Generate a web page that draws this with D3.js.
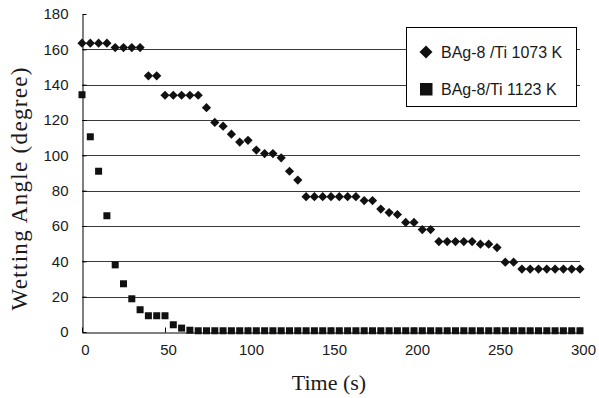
<!DOCTYPE html>
<html>
<head>
<meta charset="utf-8">
<script src="https://cdn.jsdelivr.net/npm/d3@7"></script>
<style>
  html, body { margin: 0; padding: 0; background: #fff; }
  svg { display: block; }
</style>
</head>
<body>
<div id="chart"></div>
<script>
// time (s)
const times = [0, 5, 10, 15, 20, 25, 30, 35, 40, 45, 50, 55, 60, 65, 70, 75, 80, 85, 90, 95,
  100, 105, 110, 115, 120, 125, 130, 135, 140, 145, 150, 155, 160, 165, 170, 175, 180, 185, 190, 195,
  200, 205, 210, 215, 220, 225, 230, 235, 240, 245, 250, 255, 260, 265, 270, 275, 280, 285, 290, 295, 300];

// BAg-8 /Ti 1073 K
const angle1073 = [163.5, 163.5, 163.5, 163.5, 161, 161, 161, 161, 145, 145,
  134, 134, 134, 134, 134, 127, 118.6, 116.5, 112, 107.5,
  108.5, 103, 101, 101, 98.6, 91, 86, 76.6, 76.6, 76.6,
  76.6, 76.6, 76.6, 76.6, 74.4, 74.4, 69.6, 67.6, 66.5, 62,
  62, 58, 58, 51.2, 51.2, 51.2, 51.2, 51.2, 49.7, 49.7,
  47.8, 39.5, 39.5, 35.6, 35.6, 35.6, 35.6, 35.6, 35.6, 35.6, 35.6];

// BAg-8/Ti 1123 K
const angle1123 = [134.3, 110.5, 91, 65.8, 38, 27.3, 18.8, 12.6, 9.2, 9.2,
  9.2, 4.1, 2.2, 1, 0.7, 0.7, 0.7, 0.7, 0.7, 0.7,
  0.7, 0.7, 0.7, 0.7, 0.7, 0.7, 0.7, 0.7, 0.7, 0.7,
  0.7, 0.7, 0.7, 0.7, 0.7, 0.7, 0.7, 0.7, 0.7, 0.7,
  0.7, 0.7, 0.7, 0.7, 0.7, 0.7, 0.7, 0.7, 0.7, 0.7,
  0.7, 0.7, 0.7, 0.7, 0.7, 0.7, 0.7, 0.7, 0.7, 0.7, 0.7];

const xTicks = [0, 50, 100, 150, 200, 250, 300];
const yTicks = [0, 20, 40, 60, 80, 100, 120, 140, 160, 180];
const gridTicks = [20, 40, 60, 80, 100, 120, 140, 160];
const legendNames = ['BAg-8 /Ti 1073 K', 'BAg-8/Ti 1123 K'];

const width = 599;
const height = 398;
const margin = { top: 14, right: 19, bottom: 66, left: 82 };

const svg = d3.select('#chart')
  .append('svg')
  .attr('width', width)
  .attr('height', height);

const xScale = d3.scaleLinear()
  .domain([0, 300])
  .range([margin.left, width - margin.right]);

const yScale = d3.scaleLinear()
  .domain([0, 180])
  .range([height - margin.bottom, margin.top]);

const sans = "Arial, 'Liberation Sans', Helvetica, sans-serif";
const serif = "'Times New Roman', 'Liberation Serif', serif";

// horizontal grid lines
svg.append('g')
  .selectAll('line')
  .data(gridTicks)
  .enter()
  .append('line')
  .attr('x1', xScale(0))
  .attr('x2', xScale(300))
  .attr('y1', d => Math.round(yScale(d)) + 0.5)
  .attr('y2', d => Math.round(yScale(d)) + 0.5)
  .attr('stroke', '#3a3a3a')
  .attr('stroke-width', 1);

// y axis
const yAxis = svg.append('g')
  .attr('transform', `translate(${Math.round(xScale(0)) + 0.5},0)`)
  .call(d3.axisLeft(yScale).tickValues(yTicks).tickSizeInner(-4).tickSizeOuter(0).tickPadding(14));
yAxis.select('.domain').attr('stroke', '#000');
yAxis.selectAll('.tick line').attr('stroke', '#000');
yAxis.selectAll('text')
  .attr('font-family', sans)
  .attr('font-size', 15)
  .attr('fill', '#1a1a1a');

// x axis
const xAxis = svg.append('g')
  .attr('transform', `translate(0,${Math.round(yScale(0)) + 0.5})`)
  .call(d3.axisBottom(xScale).tickValues(xTicks).tickSizeInner(-5).tickSizeOuter(0).tickPadding(12));
xAxis.select('.domain').attr('stroke', '#000');
xAxis.selectAll('.tick line').attr('stroke', '#000');
xAxis.selectAll('text')
  .attr('font-family', sans)
  .attr('font-size', 15)
  .attr('fill', '#1a1a1a')
  .attr('dx', 3);

// axis titles
svg.append('text')
  .attr('x', 329)
  .attr('y', 390)
  .attr('text-anchor', 'middle')
  .attr('font-family', serif)
  .attr('font-size', 22)
  .attr('fill', '#1a1a1a')
  .text('Time (s)');

svg.append('text')
  .attr('transform', 'translate(27,189) rotate(-90)')
  .attr('text-anchor', 'middle')
  .attr('font-family', serif)
  .attr('font-size', 23)
  .attr('textLength', 243)
  .attr('lengthAdjust', 'spacing')
  .attr('fill', '#1a1a1a')
  .text('Wetting Angle (degree)');

// markers
const diamond = s => `M0,${-s}L${s},0L0,${s}L${-s},0Z`;
const points = times.map((t, i) => ({ t: t, a: angle1073[i], b: angle1123[i] }));

svg.append('g')
  .selectAll('rect')
  .data(points)
  .enter()
  .append('rect')
  .attr('x', d => xScale(d.t) - 3.5)
  .attr('y', d => yScale(d.b) - 3.5)
  .attr('width', 7)
  .attr('height', 7)
  .attr('fill', '#111');

svg.append('g')
  .selectAll('path')
  .data(points)
  .enter()
  .append('path')
  .attr('transform', d => `translate(${xScale(d.t)},${yScale(d.a)})`)
  .attr('d', diamond(4.6))
  .attr('fill', '#111');

// legend
const legend = svg.append('g');
legend.append('rect')
  .attr('x', 406.5)
  .attr('y', 27.5)
  .attr('width', 170)
  .attr('height', 79)
  .attr('fill', '#fff')
  .attr('stroke', '#000')
  .attr('stroke-width', 1);

legend.append('path')
  .attr('transform', 'translate(426,52)')
  .attr('d', diamond(6.5))
  .attr('fill', '#111');
legend.append('rect')
  .attr('x', 420)
  .attr('y', 83)
  .attr('width', 12.5)
  .attr('height', 12.5)
  .attr('fill', '#111');

legend.selectAll('text')
  .data(legendNames)
  .enter()
  .append('text')
  .attr('x', 441)
  .attr('y', (d, i) => 57.5 + i * 37.5)
  .attr('font-family', sans)
  .attr('font-size', 16)
  .attr('fill', '#1a1a1a')
  .text(d => d);
</script>
</body>
</html>
